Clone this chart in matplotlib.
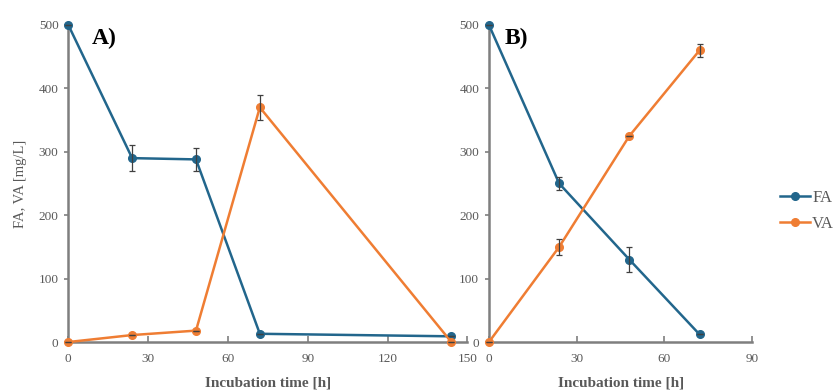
import matplotlib
matplotlib.use("Agg")
import matplotlib.pyplot as plt
from matplotlib.lines import Line2D

plt.rcParams['font.family'] = ['Liberation Serif', 'DejaVu Serif']

# Panel A: incubation over 144 h
time_a = [0, 24, 48, 72, 144]
fa_a = [500, 290, 288, 13, 9]
fa_a_err = [0, 20, 18, 0, 0]
va_a = [0, 11, 18, 370, 0]
va_a_err = [0, 0, 0, 20, 0]

# Panel B: incubation over 72 h
time_b = [0, 24, 48, 72]
fa_b = [500, 250, 130, 12]
fa_b_err = [0, 10, 20, 0]
va_b = [0, 150, 325, 460]
va_b_err = [0, 12, 0, 10]

xticks_a = [0, 30, 60, 90, 120, 150]
xticks_b = [0, 30, 60, 90]
yticks = [0, 100, 200, 300, 400, 500]

FA_COLOR = '#22668c'
VA_COLOR = '#ef7d33'
GREY = '#595959'
SPINE = '#7f7f7f'

fig = plt.figure(figsize=(8.33, 3.9), dpi=100)
ax_a = fig.add_axes([0.082, 0.123, 0.479, 0.813])
ax_b = fig.add_axes([0.587, 0.123, 0.316, 0.813])


def draw(ax, t, fa, fa_err, va, va_err):
    for y, err, c in ((fa, fa_err, FA_COLOR), (va, va_err, VA_COLOR)):
        ax.plot(t, y, color=c, lw=1.8, marker='o', ms=5.5, clip_on=False, zorder=3)
        ax.errorbar(t, y, yerr=err, fmt='none', ecolor='#404040', elinewidth=0.9,
                    capsize=2.5, capthick=0.9, zorder=4, clip_on=False)


draw(ax_a, time_a, fa_a, fa_a_err, va_a, va_a_err)
draw(ax_b, time_b, fa_b, fa_b_err, va_b, va_b_err)

for ax, xt in ((ax_a, xticks_a), (ax_b, xticks_b)):
    ax.set_xlim(xt[0], xt[-1])
    ax.set_ylim(0, 500)
    ax.set_xticks(xt)
    ax.set_yticks(yticks)
    for s in ('top', 'right'):
        ax.spines[s].set_visible(False)
    for s in ('left', 'bottom'):
        ax.spines[s].set_color(SPINE)
        ax.spines[s].set_linewidth(1.8)
    ax.tick_params(axis='x', direction='in', length=4, width=1.2, color=SPINE,
                   labelsize=9.5, labelcolor=GREY, pad=8)
    ax.tick_params(axis='y', direction='out', length=3, width=1.2, color=SPINE,
                   labelsize=9.5, labelcolor=GREY, pad=4)
    ax.set_xlabel('Incubation time [h]', fontsize=11, fontweight='bold',
                  color=GREY, labelpad=8)

ax_a.set_ylabel('FA, VA [mg/L]', fontsize=10.5, color=GREY, labelpad=8)

ax_a.text(0.06, 0.99, 'A)', transform=ax_a.transAxes, fontsize=17,
          fontweight='bold', va='top', ha='left')
ax_b.text(0.06, 0.99, 'B)', transform=ax_b.transAxes, fontsize=17,
          fontweight='bold', va='top', ha='left')

handles = [Line2D([], [], color=FA_COLOR, lw=1.8, marker='o', ms=5.5),
           Line2D([], [], color=VA_COLOR, lw=1.8, marker='o', ms=5.5)]
fig.legend(handles, ['FA', 'VA'], loc='center left', bbox_to_anchor=(0.928, 0.46),
           frameon=False, fontsize=12, handlelength=1.8, handletextpad=0.15,
           labelcolor=GREY, labelspacing=0.6, borderaxespad=0)

fig.savefig('out.png', dpi=100)
